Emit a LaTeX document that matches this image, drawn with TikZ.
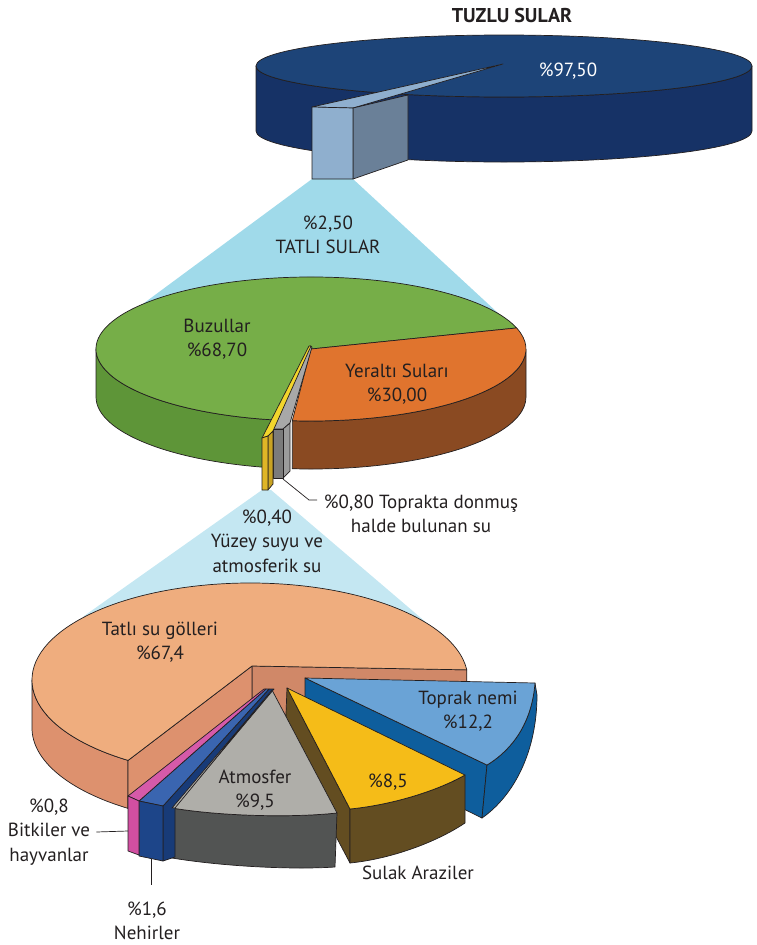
\documentclass[tikz,border=0pt]{standalone}
\usepackage{fontspec}
\setmainfont{PT Sans}
\usepackage{tikz}
\usetikzlibrary{calc}

\definecolor{ink}{HTML}{231F20}
\definecolor{seatop}{HTML}{1D4478}
\definecolor{seaside}{HTML}{163266}
\definecolor{frlight}{HTML}{8FAFCE}
\definecolor{frside}{HTML}{6A8098}
\definecolor{funnelA}{HTML}{A0DAEA}
\definecolor{funnelB}{HTML}{C4E7F2}
\definecolor{icetop}{HTML}{76AE48}
\definecolor{iceside}{HTML}{5E9538}
\definecolor{groundtop}{HTML}{E0742E}
\definecolor{groundside}{HTML}{8A4A22}
\definecolor{frzfront}{HTML}{7B7B7B}
\definecolor{frzside}{HTML}{9C9C9C}
\definecolor{frztop}{HTML}{A8A8A8}
\definecolor{surffront}{HTML}{DFB526}
\definecolor{surftop}{HTML}{F2D52C}
\definecolor{laketop}{HTML}{EFAD7E}
\definecolor{lakeside}{HTML}{DD916E}
\definecolor{lakecut}{HTML}{D08868}
\definecolor{soiltop}{HTML}{6AA3D6}
\definecolor{soilside}{HTML}{0E5E9D}
\definecolor{wettop}{HTML}{F5BC18}
\definecolor{wetside}{HTML}{634D21}
\definecolor{airtop}{HTML}{AFAEA9}
\definecolor{airside}{HTML}{525453}
\definecolor{rivtop}{HTML}{3A65B0}
\definecolor{rivfront}{HTML}{1D4589}
\definecolor{rivside}{HTML}{183B78}
\definecolor{biotop}{HTML}{D65AA9}
\definecolor{biofront}{HTML}{D14FA1}

\begin{document}
\begin{tikzpicture}[x=1pt, y=-1pt, line join=round,
    face/.style={draw=ink, line width=0.7pt},
    lbl/.style={font=\fontsize{19}{24.5}\selectfont, text=ink, align=center, inner sep=0pt},
    lead/.style={draw=ink, line width=0.7pt}]
  \useasboundingbox (0,0) rectangle (756,945);

  % pie centres
  \coordinate (tc) at (504,66);
  \coordinate (gc) at (311,349);
  \coordinate (lc) at (250,680);
  \coordinate (la) at (252,666);

  \node[lbl, font=\bfseries\fontsize{20}{24}\selectfont] (salt) at (512,15) {TUZLU SULAR};

  % funnel from the salt water pie
  \fill[funnelA] (312,179) -- (353,179) -- (512,326) -- (113,326) -- cycle;

  % salt water pie
  \filldraw[face, fill=seaside] ($(tc)+(180:248 and 31)$)
    arc[start angle=180, end angle=0, x radius=248, y radius=31] -- ++(0,65)
    arc[start angle=0, end angle=180, x radius=248, y radius=31] -- cycle;
  \filldraw[face, fill=seatop] (tc) ellipse[x radius=248, y radius=31];
  \filldraw[face, fill=frlight] (503,64) -- (312,107) -- (353,108) -- cycle;
  \filldraw[face, fill=frside] (353,108) -- (408,95) -- (408,160) -- (353,179) -- cycle;
  \filldraw[face, fill=frlight] (312,107) -- (353,108) -- (353,179) -- (312,179) -- cycle;
  \node[lbl, text=white] (saltpct) at (568,71) {\%97,50};

  % funnel from the fresh water pie
  \fill[funnelB] (262,490) -- (84,616) -- (150,660) -- (400,660) -- (428,624) -- (271,490) -- cycle;

  % fresh water pie
  \filldraw[face, fill=iceside] ($(gc)+(180:215 and 72)$)
    arc[start angle=180, end angle=100, x radius=215, y radius=72] -- ++(0,48)
    arc[start angle=100, end angle=180, x radius=215, y radius=72] -- cycle;
  \filldraw[face, fill=groundside] ($(gc)+(95:215 and 72)$)
    arc[start angle=95, end angle=0, x radius=215, y radius=72] -- ++(0,48)
    arc[start angle=0, end angle=95, x radius=215, y radius=72] -- cycle;
  \filldraw[face, fill=icetop] (gc) -- ($(gc)+(-17:215 and 72)$)
    arc[start angle=-17, end angle=-260, x radius=215, y radius=72] -- cycle;
  \filldraw[face, fill=groundtop] (gc) -- ($(gc)+(-17:215 and 72)$)
    arc[start angle=-17, end angle=95, x radius=215, y radius=72] -- cycle;

  % frozen soil water block
  \filldraw[face, fill=frztop] (273,429) -- (283,429) -- (290,423) -- (312,347) -- (310,346) -- cycle;
  \filldraw[face, fill=frzside] (283,429) -- (290,423) -- (290,471) -- (283,478) -- cycle;
  \filldraw[face, fill=frzfront] (273,429) -- (283,429) -- (283,478) -- (273,478) -- cycle;
  % surface water block
  \filldraw[face, fill=surftop] (262,438) -- (268,436) -- (273,431) -- (311,346) -- (309,346) -- cycle;
  \filldraw[face, fill=surffront!90!black] (268,436) -- (273,431) -- (273,484) -- (268,490) -- cycle;
  \filldraw[face, fill=surffront] (262,438) -- (268,436) -- (268,490) -- (262,490) -- cycle;

  \coordinate (frztip) at (283,479);
  \draw[lead] (frztip) -- ++(26,21) -- ++(8,0);

  % lake pie
  \filldraw[face, fill=lakeside] ($(lc)+(180:218 and 97)$)
    arc[start angle=180, end angle=124, x radius=218, y radius=97] -- ++(0,48)
    arc[start angle=124, end angle=180, x radius=218, y radius=97] -- cycle;
  \filldraw[face, fill=lakecut] (la) -- ($(lc)+(354:218 and 97)$) -- ++(0,48) -- ($(la)+(0,48)$) -- cycle;
  \filldraw[face, fill=lakeside] (la) -- ($(lc)+(124:218 and 97)$) -- ++(0,48) -- ($(la)+(0,48)$) -- cycle;
  \filldraw[face, fill=laketop] (la) -- ($(lc)+(124:218 and 97)$)
    arc[start angle=124, end angle=354, x radius=218, y radius=97] -- cycle;

  % soil moisture slice
  \filldraw[face, fill=soilside] (305,678) -- (487,765) -- (482,818) -- (305,731) -- cycle;
  \filldraw[face, fill=soilside] (487,765) .. controls (515,748) and (532,720) .. (535,683)
    -- (537,695) .. controls (537,750) and (515,795) .. (482,818) -- cycle;
  \filldraw[face, fill=soiltop] (305,678) -- (535,683) .. controls (532,720) and (515,748) .. (487,765) -- cycle;

  % wetland slice
  \filldraw[face, fill=wetside] (287,688) -- (350,809) -- (350,863) -- (285,740) -- cycle;
  \filldraw[face, fill=wetside] (350,809) .. controls (390,805) and (435,792) .. (465,775)
    -- (465,823) .. controls (435,843) and (390,859) .. (350,863) -- cycle;
  \filldraw[face, fill=wettop] (287,688) -- (350,809) .. controls (390,805) and (435,792) .. (465,775) -- cycle;

  % atmosphere slice
  \filldraw[face, fill=airside] (172,808) .. controls (220,816) and (290,818) .. (337,813)
    -- (335,867) .. controls (290,870) and (220,866) .. (172,858) -- cycle;
  \filldraw[face, fill=airtop] (272,690) -- (337,813) .. controls (290,818) and (220,816) .. (172,808) -- cycle;

  % rivers slice
  \filldraw[face, fill=rivside] (163,806) -- (269,689) -- (274,689) -- (175,807) -- (175,857) -- (163,861) -- cycle;
  \filldraw[face, fill=airtop] (272,690) -- (172,808) -- (175,808) -- cycle;
  \filldraw[face, fill=rivtop] (139,801) -- (163,806) -- (269,689) -- (266,689) -- cycle;
  \filldraw[face, fill=rivfront] (139,801) -- (163,806) -- (163,861) -- (139,856) -- cycle;

  % plants and animals slice
  \filldraw[face, fill=biotop] (128,796) -- (139,801) -- (266,689) -- (264,689) -- cycle;
  \filldraw[face, fill=biofront] (128,796) -- (139,801) -- (139,855) -- (128,851) -- cycle;

  % labels
  \node[lbl] (fresh) at (328,235) {\%2,50\\TATLI SULAR};
  \node[lbl] (ice) at (217,339) {Buzullar\\\%68,70};
  \node[lbl] (ground) at (397,384) {Yeraltı Suları\\\%30,00};
  \node[lbl] (frozen) at (421,514) {\%0,80 Toprakta donmuş\\halde bulunan su};
  \node[lbl] (surface) at (267,541) {\%0,40\\Yüzey suyu ve\\atmosferik su};
  \node[lbl] (lake) at (160,642) {Tatlı su gölleri\\\%67,4};
  \node[lbl] (soil) at (468,711) {Toprak nemi\\\%12,2};
  \node[lbl] (wet) at (388,782) {\%8,5};
  \node[lbl] (wetname) at (418,873) {Sulak Araziler};
  \node[lbl] (air) at (255,790) {Atmosfer\\\%9,5};
  \node[lbl] (bio) at (49,832) {\%0,8\\Bitkiler ve\\hayvanlar};
  \node[lbl] (river) at (147,921) {\%1,6\\Nehirler};

  \coordinate (biotip) at (128,831);
  \draw[lead] ([xshift=6pt]bio.east) -- (biotip);
  \coordinate (rivtip) at (151,859);
  \coordinate (rivend) at (151,885);
  \draw[lead] (rivtip) -- (rivend);
\end{tikzpicture}
\end{document}
